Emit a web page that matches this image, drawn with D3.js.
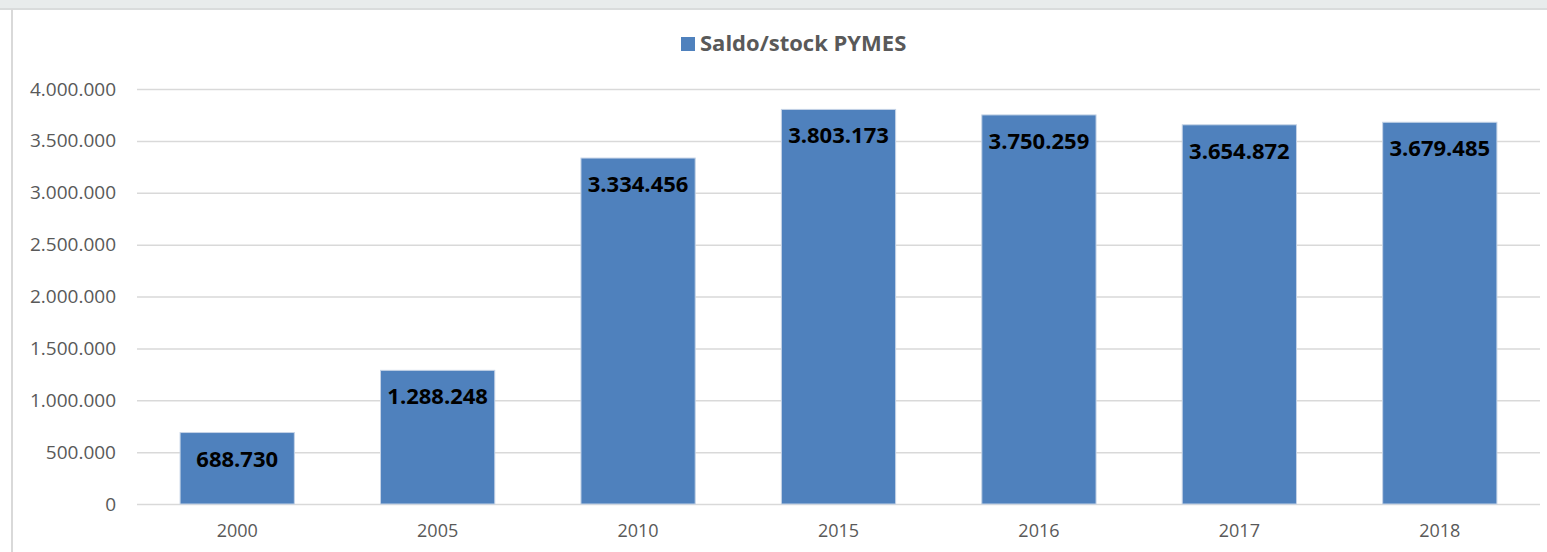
<!DOCTYPE html>
<html>
<head>
<meta charset="utf-8">
<script src="https://cdn.jsdelivr.net/npm/d3@7"></script>
<style>
  body { margin: 0; background: #fff; }
  svg { display: block; }
</style>
</head>
<body>
<div id="chart"></div>
<script>
const years = ["2000", "2005", "2010", "2015", "2016", "2017", "2018"];
const saldo = [688730, 1288248, 3334456, 3803173, 3750259, 3654872, 3679485];
const yTicks = [0, 500000, 1000000, 1500000, 2000000, 2500000, 3000000, 3500000, 4000000];
const seriesName = "Saldo/stock PYMES";

const width = 1547, height = 552;
const fmt = (v) => d3.format(",")(v).replace(/,/g, ".");

const svg = d3.select("#chart").append("svg")
  .attr("width", width)
  .attr("height", height);

// frame bits from the screenshot
svg.append("rect").attr("x", 0).attr("y", 0).attr("width", width).attr("height", 8).attr("fill", "#e8ecec");
svg.append("rect").attr("x", 0).attr("y", 8).attr("width", width).attr("height", 2).attr("fill", "#d9dcdc");
svg.append("rect").attr("x", 11).attr("y", 9).attr("width", 2).attr("height", height).attr("fill", "#d9d9d9");

const x = d3.scaleBand().domain(years).range([137, 1540]).paddingInner(0.43).paddingOuter(0.215);
const y = d3.scaleLinear().domain([0, 4000000]).range([504, 89]);

const grid = svg.append("g");
grid.selectAll("line")
  .data(yTicks)
  .join("line")
  .attr("x1", 137).attr("x2", 1540)
  .attr("y1", (d) => y(d) + 0.5).attr("y2", (d) => y(d) + 0.5)
  .attr("stroke", "#d9d9d9")
  .attr("stroke-width", 1.5);

const yAxis = svg.append("g")
  .attr("transform", "translate(116,0)")
  .call(d3.axisLeft(y).tickValues(yTicks).tickFormat(fmt).tickSize(0).tickPadding(0));
yAxis.select(".domain").remove();
yAxis.selectAll("text")
  .attr("fill", "#595959")
  .style("font-family", "'Open Sans', sans-serif")
  .style("font-size", "19px");

const xAxis = svg.append("g")
  .attr("transform", "translate(0,504)")
  .call(d3.axisBottom(x).tickSize(0).tickPadding(20));
xAxis.select(".domain").remove();
xAxis.selectAll("text")
  .attr("fill", "#595959")
  .style("font-family", "'Open Sans', sans-serif")
  .style("font-size", "18px");

svg.append("g")
  .selectAll("rect")
  .data(saldo)
  .join("rect")
  .attr("x", (d, i) => x(years[i]))
  .attr("y", (d) => y(d))
  .attr("width", x.bandwidth())
  .attr("height", (d) => y(0) - y(d))
  .attr("fill", "#4f81bd")
  .attr("stroke", "#c5d3e6")
  .attr("stroke-width", 1);

svg.append("g")
  .selectAll("text")
  .data(saldo)
  .join("text")
  .attr("x", (d, i) => x(years[i]) + x.bandwidth() / 2)
  .attr("y", (d) => y(d) + 34)
  .attr("text-anchor", "middle")
  .attr("fill", "#000")
  .style("font-family", "'Open Sans', sans-serif")
  .style("font-weight", "bold")
  .style("font-size", "22px")
  .text(fmt);

const legend = svg.append("g").attr("transform", "translate(681,37)");
legend.append("rect").attr("width", 14).attr("height", 14).attr("fill", "#4f81bd");
legend.append("text")
  .attr("x", 19).attr("y", 14)
  .attr("fill", "#595959")
  .style("font-family", "'Open Sans', sans-serif")
  .style("font-weight", "bold")
  .style("font-size", "22px")
  .text(seriesName);
</script>
</body>
</html>
